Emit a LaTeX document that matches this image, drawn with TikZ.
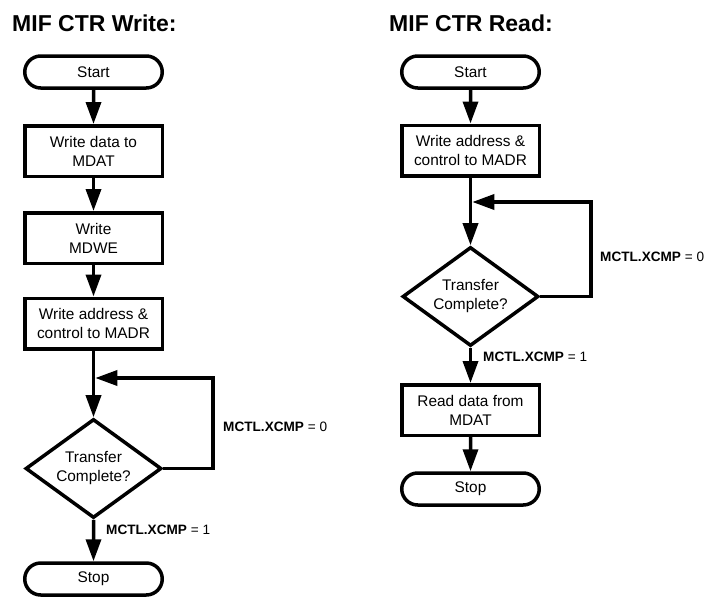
\documentclass[tikz,border=0pt]{standalone}
\usepackage{fontspec}
\setmainfont{Liberation Sans}
\usetikzlibrary{arrows.meta,shapes.geometric,shapes.misc}
\newcommand\bxfont{\fontsize{15.4}{19}\selectfont}
\newcommand\cdfont{\fontsize{13.6}{15}\selectfont}
\newcommand\ttlfont{\fontsize{23}{26}\selectfont\bfseries}
\begin{document}
\begin{tikzpicture}[x=1pt,y=-1pt,
  lw/.style={line width=3.5pt},
  proc/.style={draw, lw, rectangle, minimum width=137.5pt, minimum height=50.5pt, inner sep=0pt, align=center, font=\bxfont},
  term/.style={draw, lw, rounded rectangle, minimum width=137.5pt, minimum height=32pt, inner sep=0pt, font=\bxfont},
  dec/.style={draw, lw, diamond, aspect=1.4, minimum width=136pt, minimum height=99pt, inner sep=0pt, align=center, font=\bxfont},
  flow/.style={lw, -{Triangle[length=22pt,width=15pt]}},
  cond/.style={font=\cdfont, anchor=west, inner sep=0pt},
  ttl/.style={font=\ttlfont, anchor=base west, inner sep=0pt}]
\useasboundingbox (0,0) rectangle (704,597);
% ---------- left: write ----------
\node[ttl] (tw) at (12,31) {MIF CTR Write:};
\node[term] (ws) at (93.5,72) {Start};
\node[proc] (w1) at (93.5,151) {Write data to\\MDAT};
\node[proc] (w2) at (93.5,238) {Write\\MDWE};
\node[proc] (w3) at (93.5,323.5) {Write address \&\\control to MADR};
\node[dec] (wd) at (93.5,468.5) {Transfer\\Complete?};
\node[term] (we) at (93.5,579) {Stop};
\coordinate (wj) at (95.3,378);
\coordinate (wr) at (213,378);
\draw[flow] (ws) -- (w1);
\draw[flow] (w1) -- (w2);
\draw[flow] (w2) -- (w3);
\draw[flow] (w3) -- (wd);
\draw[flow] (wd.east) -| (wr) -- (wj);
\draw[flow] (wd) -- (we);
\node[cond] (wl0) at (223,427) {\textbf{MCTL.XCMP} = 0};
\node[cond] (wl1) at (106,530) {\textbf{MCTL.XCMP} = 1};
% ---------- right: read ----------
\node[ttl] (tr) at (389,31) {MIF CTR Read:};
\node[term] (rs) at (470.5,72) {Start};
\node[proc] (r1) at (470.5,150.5) {Write address \&\\control to MADR};
\node[dec] (rd) at (470.5,296.5) {Transfer\\Complete?};
\node[proc] (r2) at (470.5,410) {Read data from\\MDAT};
\node[term] (re) at (470.5,489) {Stop};
\coordinate (rj) at (472.3,202);
\coordinate (rr) at (591,202);
\draw[flow] (rs) -- (r1);
\draw[flow] (r1) -- (rd);
\draw[flow] (rd.east) -| (rr) -- (rj);
\draw[flow] (rd) -- (r2);
\draw[flow] (r2) -- (re);
\node[cond] (rl0) at (600,257) {\textbf{MCTL.XCMP} = 0};
\node[cond] (rl1) at (483,357) {\textbf{MCTL.XCMP} = 1};
\end{tikzpicture}
\end{document}
